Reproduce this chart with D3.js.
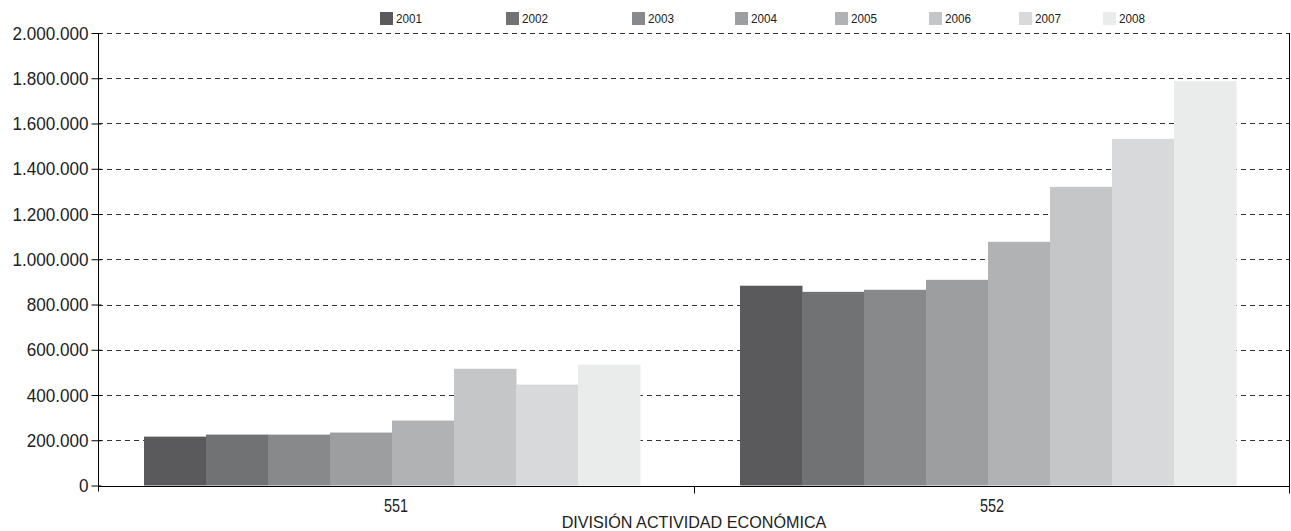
<!DOCTYPE html>
<html>
<head>
<meta charset="utf-8">
<script src="https://cdn.jsdelivr.net/npm/d3@7"></script>
<style>
  body { margin: 0; background: #fff; }
  svg { display: block; font-family: "Liberation Sans", Arial, sans-serif; }
</style>
</head>
<body>
<div id="viz"></div>
<script>
var w = 1291, h = 531;

// data
var divisions = ["551", "552"];
var years = ["2001", "2002", "2003", "2004", "2005", "2006", "2007", "2008"];
var values551 = [216000, 225000, 225000, 234000, 287000, 516000, 446000, 534000];
var values552 = [883000, 856000, 865000, 909000, 1077000, 1320000, 1532000, 1788000];
var yTicks = [0, 200000, 400000, 600000, 800000, 1000000, 1200000, 1400000, 1600000, 1800000, 2000000];

var color = {
    "2001": "#5a5a5c",
    "2002": "#717274",
    "2003": "#88898b",
    "2004": "#9d9ea0",
    "2005": "#b1b2b4",
    "2006": "#c5c6c8",
    "2007": "#d8d9db",
    "2008": "#eaeceb"
};

// legend layout (left edge of each swatch)
var legendX = [380, 506, 632, 735, 835, 929, 1019, 1103];

var rows = divisions.map(function(d, i) {
    var vals = i === 0 ? values551 : values552;
    return { id: d, values: years.map(function(y, j) { return { year: y, value: vals[j] }; }) };
});

var margin = { top: 33, right: 1, bottom: 45, left: 98 };

var svg = d3.select("#viz")
    .append("svg")
    .attr("width", w)
    .attr("height", h);

// squeeze text a bit to look like the condensed face of the original
function condense(sel, k) {
    sel.each(function() {
        var len = this.getComputedTextLength();
        d3.select(this)
            .attr("textLength", len * k)
            .attr("lengthAdjust", "spacingAndGlyphs");
    });
}

var locale = d3.formatLocale({ decimal: ",", thousands: ".", grouping: [3], currency: ["", ""] });
var fmt = locale.format(",d");

var x0 = d3.scaleBand()
    .domain(divisions)
    .range([margin.left, w - margin.right]);

var x1 = d3.scaleBand()
    .domain(years)
    .range([46, x0.bandwidth() - 54]);

var y = d3.scaleLinear()
    .domain([0, 2000000])
    .range([h - margin.bottom - 0.5, margin.top]);

// grid
svg.append("g")
    .attr("class", "grid")
    .selectAll("line")
    .data(yTicks.slice(1))
    .enter()
    .append("line")
    .attr("x1", margin.left)
    .attr("x2", w - margin.right)
    .attr("y1", function(d) { return Math.round(y(d)) + 0.5; })
    .attr("y2", function(d) { return Math.round(y(d)) + 0.5; })
    .attr("stroke", "#333")
    .attr("stroke-width", 1)
    .attr("stroke-dasharray", "5,4");

// bars
var groups = svg.append("g")
    .selectAll("g")
    .data(rows)
    .enter()
    .append("g")
    .attr("transform", function(d) { return "translate(" + x0(d.id) + ",0)"; });

groups.selectAll("rect")
    .data(function(d) { return d.values; })
    .enter()
    .append("rect")
    .attr("x", function(d) { return x1(d.year); })
    .attr("width", x1.bandwidth() + 0.5)
    .attr("y", function(d) { return y(d.value); })
    .attr("height", function(d) { return y(0) - y(d.value); })
    .attr("fill", function(d) { return color[d.year]; });

// y axis
var yAxis = svg.append("g")
    .attr("transform", "translate(" + (margin.left + 0.5) + ",0)")
    .call(d3.axisLeft(y).tickValues(yTicks).tickFormat(fmt).tickSize(7).tickPadding(3));
yAxis.select(".domain").attr("stroke", "#000").attr("d", "M0," + (y(0) + 6) + "V" + margin.top);
yAxis.selectAll(".tick line").attr("stroke", "#000").attr("x2", -7).attr("x1", 3);
yAxis.selectAll(".tick text")
    .attr("font-size", 19)
    .attr("font-family", "inherit")
    .attr("fill", "#222")
    .call(condense, 0.9);

// x axis
var base = Math.round(y(0)) + 0.5;
svg.append("line")
    .attr("x1", margin.left).attr("x2", w - margin.right)
    .attr("y1", base).attr("y2", base)
    .attr("stroke", "#000");

// right border
svg.append("line")
    .attr("x1", w - margin.right - 0.5).attr("x2", w - margin.right - 0.5)
    .attr("y1", margin.top).attr("y2", base + 7)
    .attr("stroke", "#000");

// divider tick
svg.append("line")
    .attr("x1", Math.round(x0("552")) + 0.5).attr("x2", Math.round(x0("552")) + 0.5)
    .attr("y1", base).attr("y2", base + 7)
    .attr("stroke", "#000");

svg.append("g")
    .selectAll("text")
    .data(divisions)
    .enter()
    .append("text")
    .attr("x", function(d) { return x0(d) + x0.bandwidth() / 2; })
    .attr("y", 512)
    .attr("text-anchor", "middle")
    .attr("font-size", 18)
    .attr("fill", "#222")
    .text(function(d) { return d; })
    .call(condense, 0.8);

svg.append("text")
    .attr("x", x0("552"))
    .attr("y", 528)
    .attr("text-anchor", "middle")
    .attr("font-size", 17)
    .attr("fill", "#222")
    .text("DIVISIÓN ACTIVIDAD ECONÓMICA")
    .call(condense, 0.95);

// legend
var legend = svg.append("g")
    .selectAll("g")
    .data(years)
    .enter()
    .append("g")
    .attr("transform", function(d, i) { return "translate(" + legendX[i] + ",12)"; });

legend.append("rect")
    .attr("width", 13)
    .attr("height", 13)
    .attr("fill", function(d) { return color[d]; });

legend.append("text")
    .attr("x", 16)
    .attr("y", 11)
    .attr("font-size", 13)
    .attr("fill", "#222")
    .text(function(d) { return d; })
    .call(condense, 0.9);
</script>
</body>
</html>
